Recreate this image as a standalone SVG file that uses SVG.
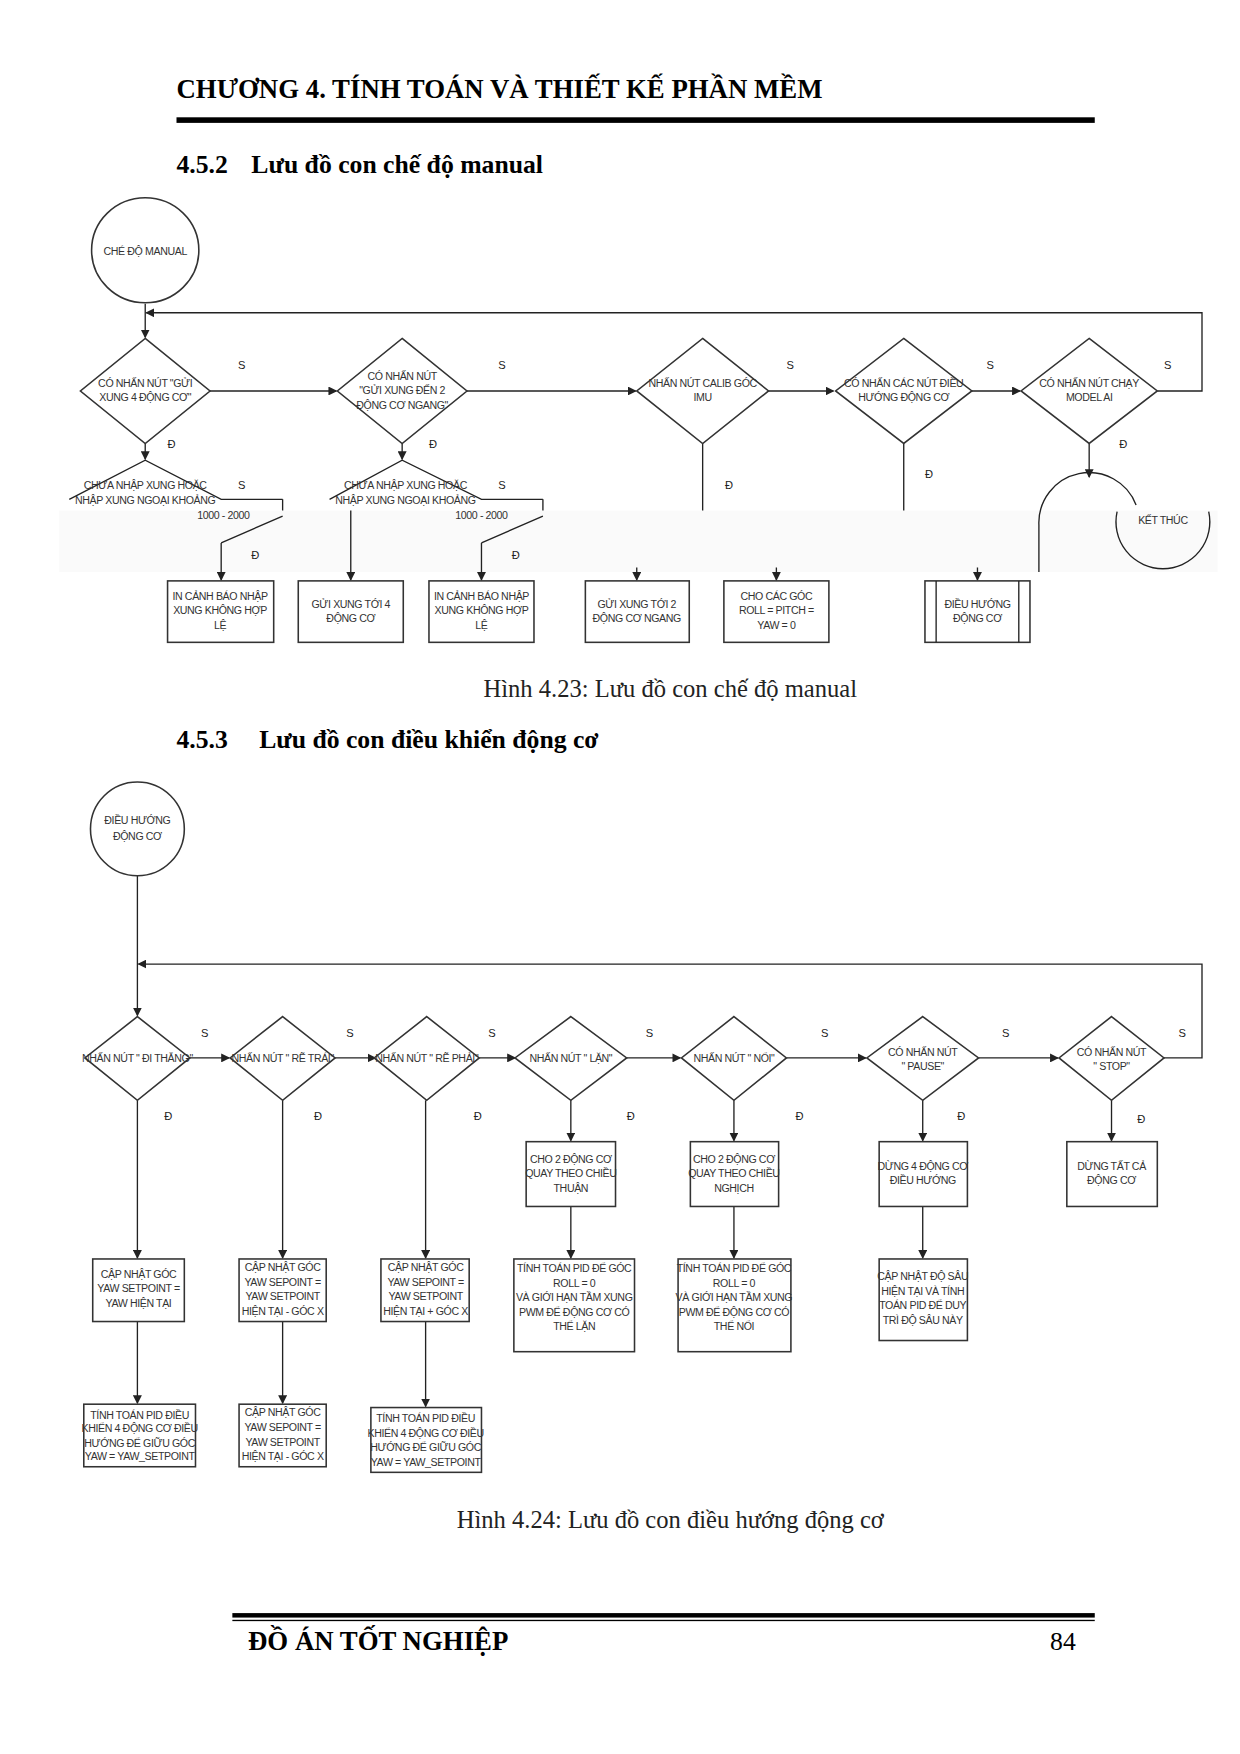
<svg xmlns="http://www.w3.org/2000/svg" width="1240" height="1754" viewBox="0 0 1240 1754">
<style>
.s{fill:none;stroke:#222;stroke-width:1.2}
.b{fill:#fff;stroke:#333;stroke-width:1.4}
.t{font-family:"Liberation Sans",Arial,sans-serif;font-size:9.5px;letter-spacing:-0.35px;fill:#333;text-anchor:middle}
.l{font-family:"Liberation Sans",Arial,sans-serif;font-size:10px;fill:#222}
.h{font-family:"Liberation Serif","Times New Roman",serif;font-weight:bold;fill:#000}
.c{font-family:"Liberation Serif","Times New Roman",serif;font-size:22px;fill:#222;text-anchor:middle}
</style>
<defs><marker id="a" markerWidth="8" markerHeight="8" refX="7" refY="4" orient="auto" markerUnits="userSpaceOnUse"><path d="M0,0 L8,4 L0,8 Z" fill="#222"/></marker></defs>
<rect width="1240" height="1754" fill="#fff"/>
<g transform="scale(1.1171)">
<text class="h" x="158" y="88" font-size="24">CHƯƠNG 4. TÍNH TOÁN VÀ THIẾT KẾ PHẦN MỀM</text>
<rect x="158" y="105" width="822" height="5" fill="#000"/>
<text class="h" y="155" font-size="23"><tspan x="158">4.5.2</tspan><tspan x="225">Lưu đồ con chế độ manual</tspan></text>
<rect x="53" y="457" width="1037" height="55" fill="#fafafa"/>
<g id="connectors1">
<path class="s" d="M130,272 V302" marker-end="url(#a)"/>
<path class="s" d="M1036,350 H1076 V280 H131" marker-end="url(#a)"/>
<path class="s" d="M188,350 H301" marker-end="url(#a)"/>
<path class="s" d="M418,350 H569" marker-end="url(#a)"/>
<path class="s" d="M687,350 H746" marker-end="url(#a)"/>
<path class="s" d="M870,350 H913" marker-end="url(#a)"/>
<path class="s" d="M130,397 V411" marker-end="url(#a)"/>
<path class="s" d="M360,397 V411" marker-end="url(#a)"/>
<path class="s" d="M198,486 V519" marker-end="url(#a)"/>
<path class="s" d="M314,457 V519" marker-end="url(#a)"/>
<path class="s" d="M431,486 V519" marker-end="url(#a)"/>
<path class="s" d="M570,508 V519" marker-end="url(#a)"/>
<path class="s" d="M695,508 V519" marker-end="url(#a)"/>
<path class="s" d="M875,508 V519" marker-end="url(#a)"/>
<path class="s" d="M629,397 V457 M809,397 V457"/>
<path class="s" d="M975,397 V427" marker-end="url(#a)"/>
<path class="s" d="M253,447 V457 M486,447 V457"/>
<text class="l" x="213" y="330">S</text><text class="l" x="446" y="330">S</text><text class="l" x="704" y="330">S</text><text class="l" x="883" y="330">S</text><text class="l" x="1042" y="330">S</text>
<text class="l" x="150" y="401">Đ</text><text class="l" x="384" y="401">Đ</text><text class="l" x="649" y="438">Đ</text><text class="l" x="828" y="428">Đ</text><text class="l" x="1002" y="401">Đ</text>
<text class="l" x="213" y="438">S</text><text class="l" x="446" y="438">S</text>
<text class="l" x="225" y="500">Đ</text><text class="l" x="458" y="500">Đ</text>
</g>
<g id="m_start"><ellipse class="b" cx="130" cy="224" rx="48" ry="47"/><text class="t" x="130" y="228">CHÉ ĐỘ MANUAL</text></g>
<g id="m_d1"><polygon class="b" points="130,303 188,350 130,397 72,350"/><text class="t" x="130" y="346">CÓ NHẤN NÚT "GỬI</text><text class="t" x="130" y="359">XUNG 4 ĐỘNG CƠ"</text></g>
<g id="m_d2"><polygon class="b" points="360,303 418,350 360,397 302,350"/><text class="t" x="360" y="340">CÓ NHẤN NÚT</text><text class="t" x="360" y="353">"GỬI XUNG ĐẾN 2</text><text class="t" x="360" y="366">ĐỘNG CƠ NGANG"</text></g>
<g id="m_d3"><polygon class="b" points="629,303 688,350 629,397 570,350"/><text class="t" x="629" y="346">NHẤN NÚT CALIB GÓC</text><text class="t" x="629" y="359">IMU</text></g>
<g id="m_d4"><polygon class="b" points="809,303 870,350 809,397 748,350"/><text class="t" x="809" y="346">CÓ NHẤN CÁC NÚT ĐIỀU</text><text class="t" x="809" y="359">HƯỚNG ĐỘNG CƠ</text></g>
<g id="m_d5"><polygon class="b" points="975,303 1036,350 975,397 914,350"/><text class="t" x="975" y="346">CÓ NHẤN NÚT CHẠY</text><text class="t" x="975" y="359">MODEL AI</text></g>
<g id="m_c1"><path class="s" d="M62,447 L130,412 L198,447 H253 M253,462 L198,486"/><text class="t" x="130" y="438">CHƯA NHẬP XUNG HOẶC</text><text class="t" x="130" y="451">NHẬP XUNG NGOẠI KHOẢNG</text><text class="t" x="200" y="465">1000 - 2000</text></g>
<g id="m_c2"><path class="s" d="M295,447 L360,412 L431,447 H486 M486,462 L431,486"/><text class="t" x="363" y="438">CHƯA NHẬP XUNG HOẶC</text><text class="t" x="363" y="451">NHẬP XUNG NGOẠI KHOẢNG</text><text class="t" x="431" y="465">1000 - 2000</text></g>
<g id="m_end"><path class="s" d="M930,512 V470 A45,45 0 0 1 1017,452"/><path class="s" d="M1000,458 A42,42 0 1 0 1082,458"/><text class="t" x="1041" y="469">KẾT THÚC</text></g>
<g id="m_b1"><rect class="b" x="150" y="520" width="95" height="55" stroke="#a33"/><text class="t" x="197" y="537">IN CẢNH BÁO NHẬP</text><text class="t" x="197" y="550">XUNG KHÔNG HỢP</text><text class="t" x="197" y="563">LỆ</text></g>
<g id="m_b2"><rect class="b" x="267" y="520" width="94" height="55"/><text class="t" x="314" y="544">GỬI XUNG TỚI 4</text><text class="t" x="314" y="557">ĐỘNG CƠ</text></g>
<g id="m_b3"><rect class="b" x="384" y="520" width="94" height="55"/><text class="t" x="431" y="537">IN CẢNH BÁO NHẬP</text><text class="t" x="431" y="550">XUNG KHÔNG HỢP</text><text class="t" x="431" y="563">LỆ</text></g>
<g id="m_b4"><rect class="b" x="524" y="520" width="93" height="55"/><text class="t" x="570" y="544">GỬI XUNG TỚI 2</text><text class="t" x="570" y="557">ĐỘNG CƠ NGANG</text></g>
<g id="m_b5"><rect class="b" x="648" y="520" width="94" height="55"/><text class="t" x="695" y="537">CHO CÁC GÓC</text><text class="t" x="695" y="550">ROLL = PITCH =</text><text class="t" x="695" y="563">YAW = 0</text></g>
<g id="m_b6"><rect class="b" x="828" y="520" width="94" height="55"/><path class="s" d="M838,520 V575 M912,520 V575"/><text class="t" x="875" y="544">ĐIỀU HƯỚNG</text><text class="t" x="875" y="557">ĐỘNG CƠ</text></g>
<text class="c" x="600" y="624">Hình 4.23: Lưu đồ con chế độ manual</text>
<text class="h" y="670" font-size="23"><tspan x="158">4.5.3</tspan><tspan x="232">Lưu đồ con điều khiển động cơ</tspan></text>
<g id="connectors2">
<path class="s" d="M123,784 V909" marker-end="url(#a)"/>
<path class="s" d="M1042,947 H1076 V863 H124" marker-end="url(#a)"/>
<path class="s" d="M170,947 H205" marker-end="url(#a)"/>
<path class="s" d="M300,947 H336" marker-end="url(#a)"/>
<path class="s" d="M429,947 H461" marker-end="url(#a)"/>
<path class="s" d="M561,947 H609" marker-end="url(#a)"/>
<path class="s" d="M704,947 H775" marker-end="url(#a)"/>
<path class="s" d="M876,947 H947" marker-end="url(#a)"/>
<path class="s" d="M123,985 V1126" marker-end="url(#a)"/>
<path class="s" d="M123,1183 V1256" marker-end="url(#a)"/>
<path class="s" d="M253,985 V1126" marker-end="url(#a)"/>
<path class="s" d="M253,1183 V1256" marker-end="url(#a)"/>
<path class="s" d="M381,985 V1126" marker-end="url(#a)"/>
<path class="s" d="M381,1183 V1259" marker-end="url(#a)"/>
<path class="s" d="M511,985 V1021" marker-end="url(#a)"/>
<path class="s" d="M511,1080 V1126" marker-end="url(#a)"/>
<path class="s" d="M657,985 V1021" marker-end="url(#a)"/>
<path class="s" d="M657,1080 V1126" marker-end="url(#a)"/>
<path class="s" d="M826,985 V1021" marker-end="url(#a)"/>
<path class="s" d="M826,1080 V1126" marker-end="url(#a)"/>
<path class="s" d="M995,985 V1021" marker-end="url(#a)"/>
<text class="l" x="180" y="928">S</text><text class="l" x="310" y="928">S</text><text class="l" x="437" y="928">S</text><text class="l" x="578" y="928">S</text><text class="l" x="735" y="928">S</text><text class="l" x="897" y="928">S</text><text class="l" x="1055" y="928">S</text>
<text class="l" x="147" y="1003">Đ</text><text class="l" x="281" y="1003">Đ</text><text class="l" x="424" y="1003">Đ</text><text class="l" x="561" y="1003">Đ</text><text class="l" x="712" y="1003">Đ</text><text class="l" x="857" y="1003">Đ</text><text class="l" x="1018" y="1005">Đ</text>
</g>
<g id="n_start"><ellipse class="b" cx="123" cy="742" rx="42" ry="42"/><text class="t" x="123" y="738">ĐIỀU HƯỚNG</text><text class="t" x="123" y="752">ĐỘNG CƠ</text></g>
<g id="n_d1"><polygon class="b" points="123,910 170,947 123,985 76,947"/><text class="t" x="123" y="951">NHẤN NÚT " ĐI THẲNG"</text></g>
<g id="n_d2"><polygon class="b" points="253,910 300,947 253,985 206,947"/><text class="t" x="253" y="951">NHẤN NÚT " RẼ TRÁI"</text></g>
<g id="n_d3"><polygon class="b" points="382,910 429,947 382,985 335,947"/><text class="t" x="382" y="951">NHẤN NÚT " RẼ PHẢI"</text></g>
<g id="n_d4"><polygon class="b" points="511,910 561,947 511,985 461,947"/><text class="t" x="511" y="951">NHẤN NÚT " LẶN"</text></g>
<g id="n_d5"><polygon class="b" points="657,910 704,947 657,985 610,947"/><text class="t" x="657" y="951">NHẤN NÚT " NỔI"</text></g>
<g id="n_d6"><polygon class="b" points="826,910 876,947 826,985 776,947"/><text class="t" x="826" y="945">CÓ NHẤN NÚT</text><text class="t" x="826" y="958">" PAUSE"</text></g>
<g id="n_d7"><polygon class="b" points="995,910 1042,947 995,985 948,947"/><text class="t" x="995" y="945">CÓ NHẤN NÚT</text><text class="t" x="995" y="958">" STOP"</text></g>
<g id="n_b1"><rect class="b" x="83" y="1127" width="82" height="56"/><text class="t" x="124" y="1144">CẬP NHẬT GÓC</text><text class="t" x="124" y="1157">YAW SETPOINT =</text><text class="t" x="124" y="1170">YAW HIỆN TẠI</text></g>
<g id="n_b2"><rect class="b" x="75" y="1257" width="100" height="56"/><text class="t" x="125" y="1270">TÍNH TOÁN PID ĐIỀU</text><text class="t" x="125" y="1282">KHIỂN 4 ĐỘNG CƠ ĐIỀU</text><text class="t" x="125" y="1295">HƯỚNG ĐỂ GIỮU GÓC</text><text class="t" x="125" y="1307">YAW = YAW_SETPOINT</text></g>
<g id="n_b3"><rect class="b" x="214" y="1127" width="78" height="56"/><text class="t" x="253" y="1138">CẬP NHẬT GÓC</text><text class="t" x="253" y="1151">YAW SEPOINT =</text><text class="t" x="253" y="1164">YAW SETPOINT</text><text class="t" x="253" y="1177">HIỆN TẠI - GÓC X</text></g>
<g id="n_b4"><rect class="b" x="214" y="1257" width="78" height="56"/><text class="t" x="253" y="1268">CẬP NHẬT GÓC</text><text class="t" x="253" y="1281">YAW SEPOINT =</text><text class="t" x="253" y="1294">YAW SETPOINT</text><text class="t" x="253" y="1307">HIỆN TẠI - GÓC X</text></g>
<g id="n_b5"><rect class="b" x="341" y="1127" width="79" height="56"/><text class="t" x="381" y="1138">CẬP NHẬT GÓC</text><text class="t" x="381" y="1151">YAW SEPOINT =</text><text class="t" x="381" y="1164">YAW SETPOINT</text><text class="t" x="381" y="1177">HIỆN TẠI + GÓC X</text></g>
<g id="n_b6"><rect class="b" x="332" y="1260" width="99" height="58"/><text class="t" x="381" y="1273">TÍNH TOÁN PID ĐIỀU</text><text class="t" x="381" y="1286">KHIỂN 4 ĐỘNG CƠ ĐIỀU</text><text class="t" x="381" y="1299">HƯỚNG ĐỂ GIỮU GÓC</text><text class="t" x="381" y="1312">YAW = YAW_SETPOINT</text></g>
<g id="n_b7"><rect class="b" x="471" y="1022" width="80" height="58"/><text class="t" x="511" y="1041">CHO 2 ĐỘNG CƠ</text><text class="t" x="511" y="1054">QUAY THEO CHIỀU</text><text class="t" x="511" y="1067">THUẬN</text></g>
<g id="n_b8"><rect class="b" x="460" y="1127" width="108" height="83"/><text class="t" x="514" y="1139">TÍNH TOÁN PID ĐỂ GÓC</text><text class="t" x="514" y="1152">ROLL = 0</text><text class="t" x="514" y="1165">VÀ GIỚI HẠN TẦM XUNG</text><text class="t" x="514" y="1178">PWM ĐỂ ĐỘNG CƠ CÓ</text><text class="t" x="514" y="1191">THỂ LẶN</text></g>
<g id="n_b9"><rect class="b" x="618" y="1022" width="79" height="58"/><text class="t" x="657" y="1041">CHO 2 ĐỘNG CƠ</text><text class="t" x="657" y="1054">QUAY THEO CHIỀU</text><text class="t" x="657" y="1067">NGHỊCH</text></g>
<g id="n_b10"><rect class="b" x="607" y="1127" width="101" height="83"/><text class="t" x="657" y="1139">TÍNH TOÁN PID ĐỂ GÓC</text><text class="t" x="657" y="1152">ROLL = 0</text><text class="t" x="657" y="1165">VÀ GIỚI HẠN TẦM XUNG</text><text class="t" x="657" y="1178">PWM ĐỂ ĐỘNG CƠ CÓ</text><text class="t" x="657" y="1191">THỂ NỔI</text></g>
<g id="n_b11"><rect class="b" x="787" y="1022" width="79" height="58"/><text class="t" x="826" y="1047">DỪNG 4 ĐỘNG CƠ</text><text class="t" x="826" y="1060">ĐIỀU HƯỚNG</text></g>
<g id="n_b12"><rect class="b" x="787" y="1127" width="79" height="73"/><text class="t" x="826" y="1146">CẬP NHẬT ĐỘ SÂU</text><text class="t" x="826" y="1159">HIỆN TẠI VÀ TÍNH</text><text class="t" x="826" y="1172">TOÁN PID ĐỂ DUY</text><text class="t" x="826" y="1185">TRÌ ĐỘ SÂU NÀY</text></g>
<g id="n_b13"><rect class="b" x="955" y="1022" width="81" height="58"/><text class="t" x="995" y="1047">DỪNG TẤT CẢ</text><text class="t" x="995" y="1060">ĐỘNG CƠ</text></g>
<text class="c" x="600" y="1368">Hình 4.24: Lưu đồ con điều hướng động cơ</text>
<rect x="208" y="1444" width="772" height="4" fill="#000"/>
<rect x="208" y="1450" width="772" height="1.2" fill="#000"/>
<text class="h" x="222" y="1477" font-size="24">ĐỒ ÁN TỐT NGHIỆP</text>
<text x="940" y="1477" font-family="Liberation Serif,serif" font-size="23">84</text>
</g>
</svg>
